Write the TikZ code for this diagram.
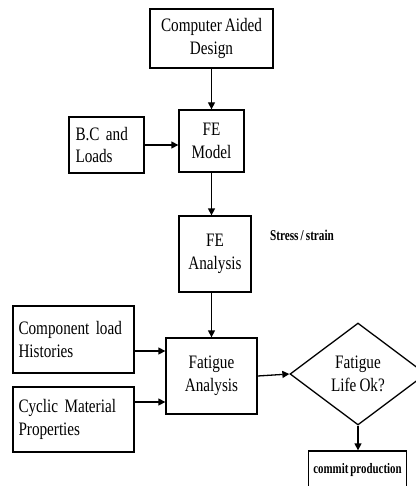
\documentclass[tikz,border=0pt]{standalone}
\usepackage{fontspec}
\setmainfont{Liberation Serif}[FakeStretch=0.8, WordSpace=0.8]
\newfontfamily\narrowfont{Liberation Serif}[FakeStretch=0.75, WordSpace=0.75]
\usepackage{tikz}
\usetikzlibrary{positioning,shapes.geometric,arrows.meta}
\tikzset{
    block/.style={rectangle, draw, line width=1.3pt, inner sep=2pt, align=center,
        font=\fontsize{19}{22.5}\selectfont},
    leftblock/.style={block, align=left, text width=#1},
    decision/.style={diamond, draw, line width=1.3pt, inner sep=0pt, align=center,
        minimum width=136pt, minimum height=102pt, font=\fontsize{19}{22.5}\selectfont},
    note/.style={font=\narrowfont\fontsize{15}{17}\selectfont\bfseries, inner sep=0pt},
    flow/.style={-{Triangle[length=7pt,width=7pt]}, line width=1.3pt}
}

\begin{document}
\begin{tikzpicture}[x=1pt, y=1pt]
    \useasboundingbox (0,0) rectangle (415,-486);

    % Blocks
    \node[block, minimum width=123pt, minimum height=59pt] (cad) at (211.5,-38.5) {Computer Aided\\Design};
    \node[block, minimum width=65pt, minimum height=62pt] (fem) at (211.5,-141) {FE\\Model};
    \node[leftblock=62pt, minimum width=75pt, minimum height=56pt] (bc) at (106.5,-145) {B.C and\\Loads};
    \node[block, minimum width=72pt, minimum height=76pt] (fea) at (215,-254) {FE\\Analysis};
    \node[note] (stress) at (302,-235) {Stress / strain};
    \node[leftblock=110pt, minimum width=121pt, minimum height=67pt] (comp) at (73.5,-339.5) {Component load\\Histories};
    \node[leftblock=110pt, minimum width=121pt, minimum height=65pt] (cyc) at (73.5,-419.5) {Cyclic Material\\Properties};
    \node[block, minimum width=91pt, minimum height=76pt] (fat) at (211.5,-376) {Fatigue\\Analysis};
    \node[decision] (life) at (358,-374) {Fatigue\\Life Ok?};
    \node[block, font=\narrowfont\fontsize{14.5}{17}\selectfont\bfseries, minimum width=98pt, minimum height=38pt] (prod) at (357.5,-470) {commit production};

    % Arrows
    \coordinate (in1) at ([yshift=25pt]fat.west);
    \coordinate (in2) at ([yshift=-26pt]fat.west);
    \draw[flow] (cad) -- (fem);
    \draw[flow] (bc.east) -- (bc.east -| fem.west);
    \draw[flow] (fem.south) -- (fem.south |- fea.north);
    \draw[flow] (fat.north |- fea.south) -- (fat.north);
    \draw[flow] (comp.east |- in1) -- (in1);
    \draw[flow] (cyc.east |- in2) -- (in2);
    \draw[flow] (fat.east) -- (life.west);
    \draw[flow] (life.south) -- (prod.north -| life.south);

\end{tikzpicture}
\end{document}
